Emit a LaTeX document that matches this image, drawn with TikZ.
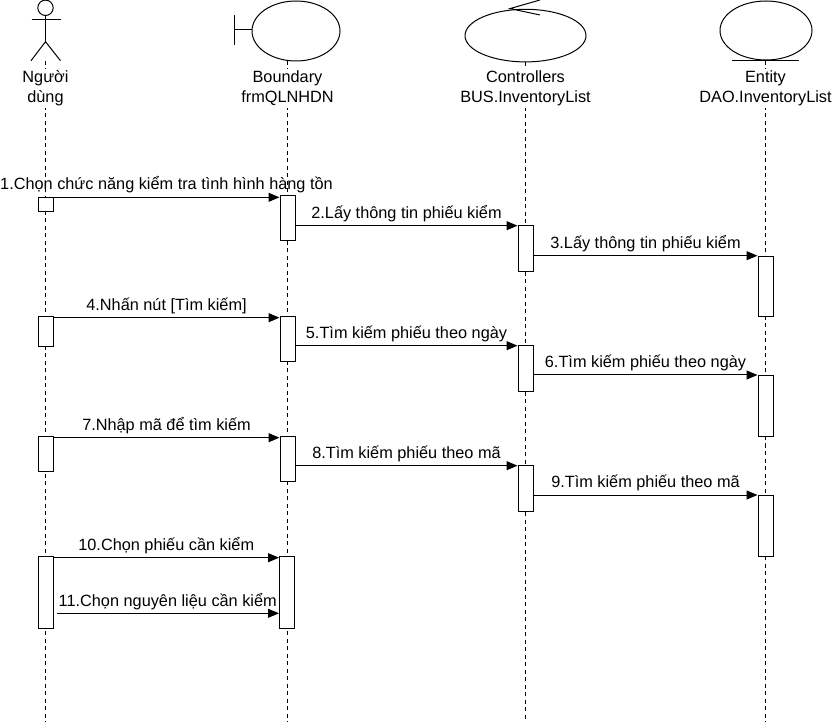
\documentclass[tikz,border=0pt]{standalone}
\usepackage{fontspec}
\setmainfont{Liberation Sans}
\usetikzlibrary{arrows.meta,calc}

\tikzset{
  lifeline/.style={line width=0.8pt, dash pattern=on 4pt off 3.5pt},
  shapeline/.style={line width=1pt},
  actbox/.style={draw, fill=white, line width=1pt, rectangle, inner sep=0pt,
                 minimum width=15pt, anchor=north},
  msg/.style={line width=1pt, -{Triangle[length=11pt,width=9pt]}},
  lbl/.style={anchor=base, yshift=7.3pt, inner sep=0pt,
              font=\fontsize{16.3}{19.5}\selectfont},
  head/.style={fill=white, inner sep=2pt, align=center, anchor=base,
               font=\fontsize{16.3}{19.5}\selectfont}
}

\begin{document}
\begin{tikzpicture}[x=1pt, y=-1pt]
\useasboundingbox (0,0) rectangle (839,722);

% ---- actor ----
\draw[shapeline] (45.5,7.8) circle (7.7);
\draw[shapeline] (45.5,15.5) -- (45.5,41.7);
\draw[shapeline] (31.7,20) -- (60.7,20);
\draw[shapeline] (31,60.7) -- (45.5,41.7) -- (60.5,60.7);
\coordinate (actorfoot) at (45.5,61);

% ---- boundary ----
\draw[shapeline] (296,31) ellipse (44 and 30);
\draw[shapeline] (234.5,15) -- (234.5,45);
\draw[shapeline] (234.5,30) -- (252,30);
\coordinate (boundfoot) at (287.5,61);

% ---- controller ----
\draw[shapeline] (525.5,35.6) ellipse (60.5 and 26.3);
\draw[shapeline] (540,0) -- (510,8.6) -- (540,15);
\coordinate (ctrlfoot) at (525.5,62);

% ---- entity ----
\draw[shapeline] (766,30.5) ellipse (46 and 29.5);
\draw[shapeline] (732,61) -- (799,61);
\coordinate (entfoot) at (765.5,61);

% ---- lifelines ----
\coordinate (bottom) at (0,722);
\draw[lifeline] (actorfoot) -- (actorfoot |- bottom);
\draw[lifeline] (boundfoot) -- (boundfoot |- bottom);
\draw[lifeline] (ctrlfoot) -- (ctrlfoot |- bottom);
\draw[lifeline] (entfoot) -- (entfoot |- bottom);

% ---- participant names (base = last line) ----
\node[head] (nuser) at (45.5,102.5) {Người\\dùng};
\node[head] (nbound) at (287.5,102.5) {Boundary\\frmQLNHDN};
\node[head] (nctrl) at (525.5,102.5) {Controllers\\BUS.InventoryList};
\node[head] (nent) at (765.5,102.5) {Entity\\DAO.InventoryList};

% ---- activation bars ----
\node[actbox, minimum height=14pt] (A1) at (45.5,196.7) {};
\node[actbox, minimum height=45pt] (B1) at (287.5,195) {};
\node[actbox, minimum height=45.7pt] (C1) at (525.5,225) {};
\node[actbox, minimum height=60pt] (E1) at (765.5,255.7) {};

\node[actbox, minimum height=30pt] (A2) at (45.5,315.7) {};
\node[actbox, minimum height=45pt] (B2) at (287.5,315.7) {};
\node[actbox, minimum height=45.7pt] (C2) at (525.5,345) {};
\node[actbox, minimum height=60.7pt] (E2) at (765.5,375) {};

\node[actbox, minimum height=35pt] (A3) at (45.5,435.7) {};
\node[actbox, minimum height=45pt] (B3) at (287.5,435.7) {};
\node[actbox, minimum height=45.7pt] (C3) at (525.5,465) {};
\node[actbox, minimum height=60.7pt] (E3) at (765.5,495) {};

\node[actbox, minimum height=72pt] (A4) at (45.5,555.7) {};
\node[actbox, minimum height=72pt] (B4) at (287,555.7) {};

% ---- message heights ----
\coordinate (m1) at (0,197.3);
\coordinate (m2) at (0,225.7);
\coordinate (m3) at (0,255.7);
\coordinate (m4) at (0,317.7);
\coordinate (m5) at (0,345.7);
\coordinate (m6) at (0,375);
\coordinate (m7) at (0,437.7);
\coordinate (m8) at (0,465.7);
\coordinate (m9) at (0,495);
\coordinate (m10) at (0,557.7);
\coordinate (m11) at (0,613.3);

% ---- messages ----
\draw[msg] (A1.east |- m1) -- node[lbl] {1.Chọn chức năng kiểm tra tình hình hàng tồn} (B1.west |- m1);
\draw[msg] (B1.east |- m2) -- node[lbl] {2.Lấy thông tin phiếu kiểm} (C1.west |- m2);
\draw[msg] (C1.east |- m3) -- node[lbl] {3.Lấy thông tin phiếu kiểm} (E1.west |- m3);

\draw[msg] (A2.east |- m4) -- node[lbl] {4.Nhấn nút [Tìm kiếm]} (B2.west |- m4);
\draw[msg] (B2.east |- m5) -- node[lbl] {5.Tìm kiếm phiếu theo ngày} (C2.west |- m5);
\draw[msg] (C2.east |- m6) -- node[lbl] {6.Tìm kiếm phiếu theo ngày} (E2.west |- m6);

\draw[msg] (A3.east |- m7) -- node[lbl] {7.Nhập mã để tìm kiếm} (B3.west |- m7);
\draw[msg] (B3.east |- m8) -- node[lbl] {8.Tìm kiếm phiếu theo mã} (C3.west |- m8);
\draw[msg] (C3.east |- m9) -- node[lbl] {9.Tìm kiếm phiếu theo mã} (E3.west |- m9);

\draw[msg] (A4.east |- m10) -- node[lbl] {10.Chọn phiếu cần kiểm} (B4.west |- m10);
\draw[msg] ($(A4.east |- m11)+(3,0)$) -- node[lbl] {11.Chọn nguyên liệu cần kiểm} (B4.west |- m11);
\end{tikzpicture}
\end{document}
